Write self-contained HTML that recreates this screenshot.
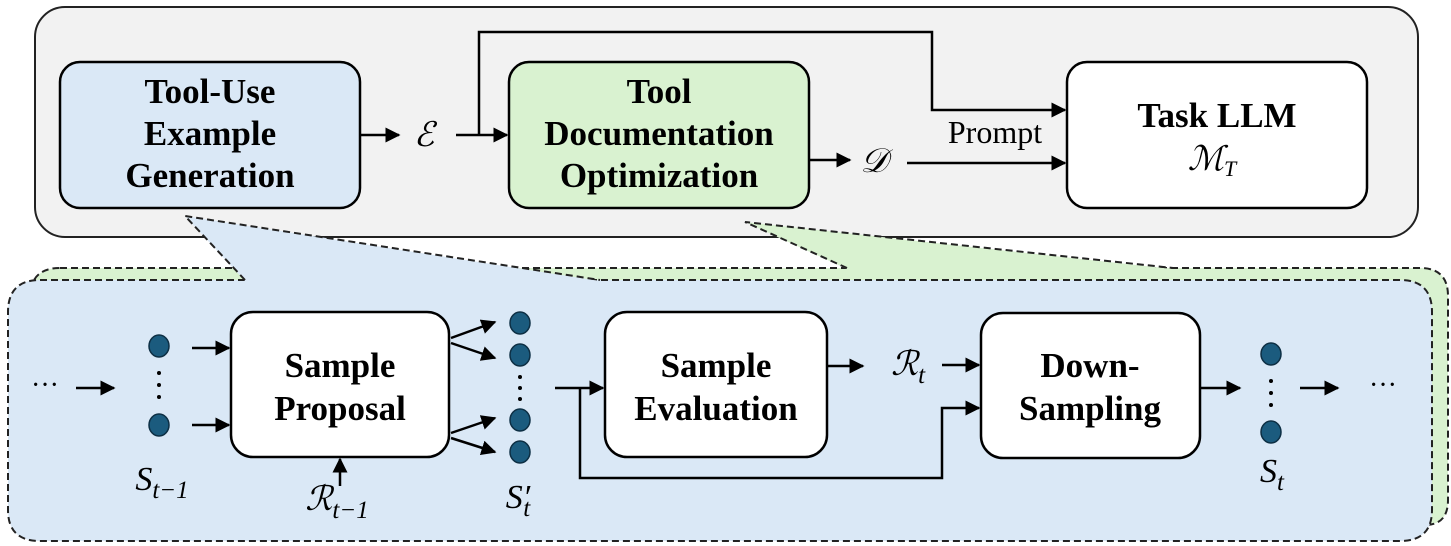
<!DOCTYPE html>
<html><head><meta charset="utf-8"><style>
html,body{margin:0;padding:0;background:#fff;}
svg{display:block;}
.b{font-family:"Liberation Serif",serif;font-weight:bold;font-size:35px;fill:#000;text-anchor:middle;}
.m{font-family:"Liberation Serif","DejaVu Serif",serif;font-style:italic;font-size:34px;fill:#000;text-anchor:middle;}
</style></head><body>
<svg width="1451" height="546" viewBox="0 0 1451 546" xmlns="http://www.w3.org/2000/svg">
<defs>
<marker id="a" viewBox="0 0 10 10" refX="9" refY="5" markerWidth="6" markerHeight="6" orient="auto-start-reverse"><path d="M0,0 L10,5 L0,10 z" fill="#000"/></marker>
</defs>
<path d="M60,268 H1420 Q1448,268 1448,296 V500 Q1448,525 1425,525 H60 Q30,525 30,495 V298 Q30,268 60,268 Z" fill="#d9f2d0" stroke="#222" stroke-width="2" stroke-dasharray="7,4"/>
<rect x="35" y="7" width="1383" height="230" rx="30" fill="#f2f2f2" stroke="#222" stroke-width="2"/>
<polygon points="745,222 847,269 1173,269" fill="#d9f2d0"/>
<polyline points="847,268 745,222 1173,268" fill="none" stroke="#222" stroke-width="2" stroke-dasharray="7,4"/>
<path d="M40,280 H1400 Q1432,280 1432,312 V510 Q1432,541 1400,541 H40 Q8,541 8,510 V312 Q8,280 40,280 Z" fill="#dae8f6" stroke="#222" stroke-width="2" stroke-dasharray="7,4"/>
<polygon points="185,216 245,281 600,281" fill="#dae8f6"/>
<polyline points="245,280 185,216 600,280" fill="none" stroke="#222" stroke-width="2" stroke-dasharray="7,4"/>

<rect x="60" y="62" width="300" height="146" rx="20" fill="#dae8f6" stroke="#000" stroke-width="2.5"/>
<text class="b" x="210" y="103">Tool-Use</text>
<text class="b" x="210" y="145">Example</text>
<text class="b" x="210" y="187">Generation</text>
<rect x="509" y="62" width="300" height="146" rx="20" fill="#d9f2d0" stroke="#000" stroke-width="2.5"/>
<text class="b" x="659" y="103">Tool</text>
<text class="b" x="659" y="145">Documentation</text>
<text class="b" x="659" y="187">Optimization</text>
<rect x="1067" y="62" width="300" height="146" rx="20" fill="#fff" stroke="#000" stroke-width="2.5"/>
<text class="b" x="1217" y="127">Task LLM</text>
<text class="m" x="1212" y="170">ℳ<tspan font-size="22" dy="6">T</tspan></text>

<g stroke="#000" stroke-width="2.5" fill="none">
<line x1="360" y1="135" x2="399" y2="135" marker-end="url(#a)"/>
<line x1="456" y1="135" x2="507" y2="135" marker-end="url(#a)"/>
<polyline points="479,135 479,32 932,32 932,110 1065,110" marker-end="url(#a)"/>
<line x1="809" y1="160" x2="850" y2="160" marker-end="url(#a)"/>
<line x1="907" y1="163" x2="1065" y2="163" marker-end="url(#a)"/>
</g>
<text class="m" x="424" y="146">ℰ</text>
<text class="m" x="874" y="172">𝒟</text>
<text x="995" y="143" font-family="Liberation Serif,serif" font-size="32" text-anchor="middle">Prompt</text>

<text x="45" y="394" font-family="Liberation Serif,serif" font-size="28" text-anchor="middle">···</text>
<text x="1383" y="394" font-family="Liberation Serif,serif" font-size="28" text-anchor="middle">···</text>
<rect x="231" y="312" width="218" height="145" rx="22" fill="#fff" stroke="#000" stroke-width="2.5"/>
<text class="b" x="340" y="377">Sample</text>
<text class="b" x="340" y="420">Proposal</text>
<rect x="605" y="312" width="222" height="145" rx="22" fill="#fff" stroke="#000" stroke-width="2.5"/>
<text class="b" x="716" y="377">Sample</text>
<text class="b" x="716" y="420">Evaluation</text>
<rect x="981" y="313" width="219" height="145" rx="22" fill="#fff" stroke="#000" stroke-width="2.5"/>
<text class="b" x="1090" y="377">Down-</text>
<text class="b" x="1090" y="420">Sampling</text>

<g fill="#1b5b7e" stroke="#0d2f44" stroke-width="1.5">
<ellipse cx="159" cy="346" rx="10" ry="11"/><ellipse cx="159" cy="425" rx="10" ry="11"/>
<ellipse cx="520" cy="323" rx="10" ry="11"/><ellipse cx="520" cy="355" rx="10" ry="11"/>
<ellipse cx="520" cy="420" rx="10" ry="11"/><ellipse cx="520" cy="452" rx="10" ry="11"/>
<ellipse cx="1271" cy="354" rx="10" ry="11"/><ellipse cx="1271" cy="432" rx="10" ry="11"/>
</g>
<g fill="#000">
<circle cx="159" cy="373" r="2"/><circle cx="159" cy="385" r="2"/><circle cx="159" cy="397" r="2"/>
<circle cx="520" cy="377" r="2"/><circle cx="520" cy="388" r="2"/><circle cx="520" cy="399" r="2"/>
<circle cx="1271" cy="381" r="2"/><circle cx="1271" cy="393" r="2"/><circle cx="1271" cy="405" r="2"/>
</g>
<g stroke="#000" stroke-width="2.5" fill="none">
<line x1="76" y1="388" x2="114" y2="388" marker-end="url(#a)"/>
<line x1="192" y1="348" x2="229" y2="348" marker-end="url(#a)"/>
<line x1="192" y1="425" x2="229" y2="425" marker-end="url(#a)"/>
<line x1="451" y1="338" x2="495" y2="322" marker-end="url(#a)"/>
<line x1="451" y1="343" x2="495" y2="358" marker-end="url(#a)"/>
<line x1="451" y1="433" x2="495" y2="418" marker-end="url(#a)"/>
<line x1="451" y1="438" x2="495" y2="452" marker-end="url(#a)"/>
<line x1="340" y1="486" x2="340" y2="459" marker-end="url(#a)"/>
<line x1="555" y1="388" x2="603" y2="388" marker-end="url(#a)"/>
<polyline points="580,388 580,478 942,478 942,408 979,408" marker-end="url(#a)"/>
<line x1="827" y1="366" x2="863" y2="366" marker-end="url(#a)"/>
<line x1="942" y1="365" x2="979" y2="365" marker-end="url(#a)"/>
<line x1="1200" y1="388" x2="1240" y2="388" marker-end="url(#a)"/>
<line x1="1300" y1="388" x2="1338" y2="388" marker-end="url(#a)"/>
</g>
<text class="m" x="162" y="490">S<tspan font-size="25" dy="8">t−1</tspan></text>
<text class="m" x="337" y="510">ℛ<tspan font-size="25" dy="8">t−1</tspan></text>
<text class="m" x="518" y="508">S′<tspan font-size="25" dy="8" dx="-7">t</tspan></text>
<text class="m" x="908" y="375">ℛ<tspan font-size="25" dy="8">t</tspan></text>
<text class="m" x="1272" y="482">S<tspan font-size="25" dy="8">t</tspan></text>
</svg>
</body></html>
